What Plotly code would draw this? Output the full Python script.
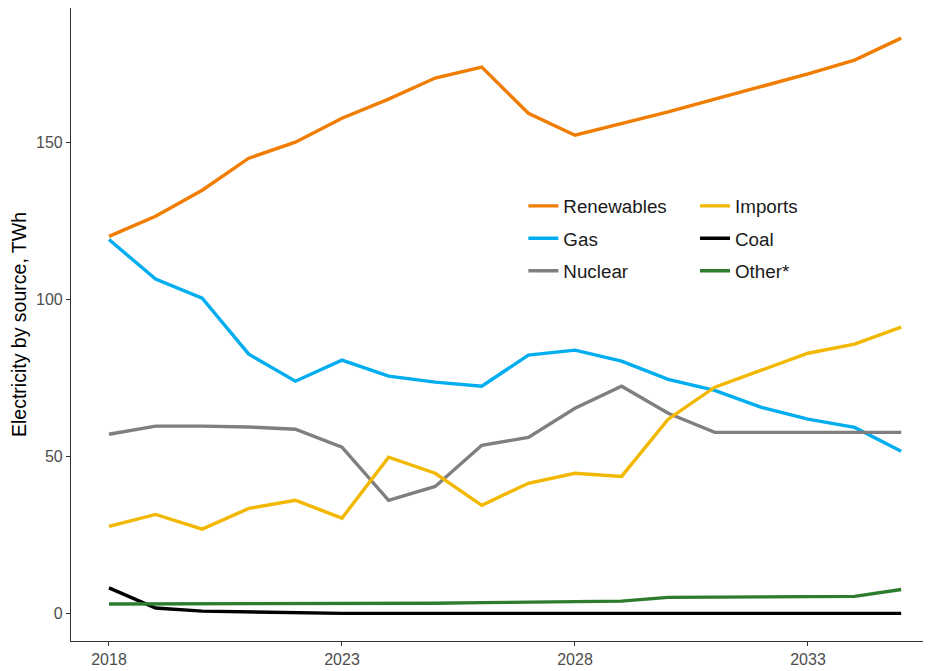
import plotly.graph_objects as go

years = list(range(2018, 2036))

renewables = [120.0, 126.4, 134.7, 144.9, 150.0, 157.6, 163.7, 170.4, 173.9, 159.2,
              152.2, 156.0, 159.6, 163.7, 167.8, 171.7, 176.1, 183.1]
gas = [119.0, 106.4, 100.3, 82.5, 73.9, 80.6, 75.5, 73.6, 72.3, 82.2,
       83.8, 80.3, 74.5, 71.0, 65.6, 61.8, 59.2, 51.6]
nuclear = [57.0, 59.6, 59.6, 59.3, 58.6, 52.9, 36.0, 40.4, 53.5, 56.0,
           65.3, 72.3, 63.7, 57.6, 57.6, 57.6, 57.6, 57.6]
imports = [27.7, 31.5, 26.8, 33.4, 36.0, 30.3, 49.7, 44.6, 34.4, 41.4,
           44.6, 43.6, 61.8, 72.0, 77.4, 82.8, 85.7, 91.1]
coal = [8.1, 1.7, 0.7, 0.4, 0.3, 0.0, 0.0, 0.0, 0.0, 0.0,
        0.0, 0.0, 0.0, 0.0, 0.0, 0.0, 0.0, 0.0]
other = [3.0, 3.0, 3.0, 3.0, 3.2, 3.2, 3.2, 3.2, 3.4, 3.5,
         3.6, 3.9, 5.1, 5.2, 5.2, 5.3, 5.4, 7.6]

x_ticks = [2018, 2023, 2028, 2033]
y_ticks = [0, 50, 100, 150]

series = [
    ("Renewables", renewables, "#F07D00", "legend"),
    ("Gas", gas, "#00AEEF", "legend"),
    ("Nuclear", nuclear, "#7F7F7F", "legend"),
    ("Imports", imports, "#F2B800", "legend2"),
    ("Coal", coal, "#000000", "legend2"),
    ("Other*", other, "#2E7D2E", "legend2"),
]

fig = go.Figure()
for name, vals, color, leg in series:
    fig.add_trace(go.Scatter(
        x=years, y=vals, mode="lines", name=name,
        line=dict(color=color, width=3.4),
        legend=leg, legendgroup=name,
    ))

legend_common = dict(
    bgcolor="rgba(0,0,0,0)",
    font=dict(family="Liberation Sans, Arial, sans-serif", size=18.8, color="#1a1a1a"),
    tracegroupgap=5,
    traceorder="grouped",
    xanchor="left", yanchor="top",
    itemwidth=30,
)

fig.update_layout(
    width=923, height=663,
    margin=dict(l=63, r=0, t=0, b=30, autoexpand=False),
    plot_bgcolor="white", paper_bgcolor="white",
    font=dict(family="Liberation Sans, Arial, sans-serif"),
    legend=dict(x=0.526, y=0.717, **legend_common),
    legend2=dict(x=0.7256, y=0.717, **legend_common),
    xaxis=dict(
        range=[2017.185, 2035.64],
        tickvals=x_ticks, ticktext=[str(v) for v in x_ticks],
        showgrid=False, zeroline=False,
        showline=True, linecolor="#333333", linewidth=1.2,
        ticks="outside", ticklen=4, tickcolor="#333333", tickwidth=1,
        tickfont=dict(size=16, color="#4d4d4d"),
        automargin=False,
    ),
    yaxis=dict(
        range=[-8.8, 192.7],
        tickvals=y_ticks, ticktext=[str(v) for v in y_ticks],
        showgrid=False, zeroline=False,
        showline=True, linecolor="#333333", linewidth=1.2,
        ticks="outside", ticklen=4, tickcolor="#333333", tickwidth=1,
        tickfont=dict(size=16, color="#4d4d4d"),
        automargin=False,
        title=dict(text="Electricity by source, TWh",
                   font=dict(size=19.5, color="#000000"), standoff=6),
    ),
)

fig.write_html("out.html")
